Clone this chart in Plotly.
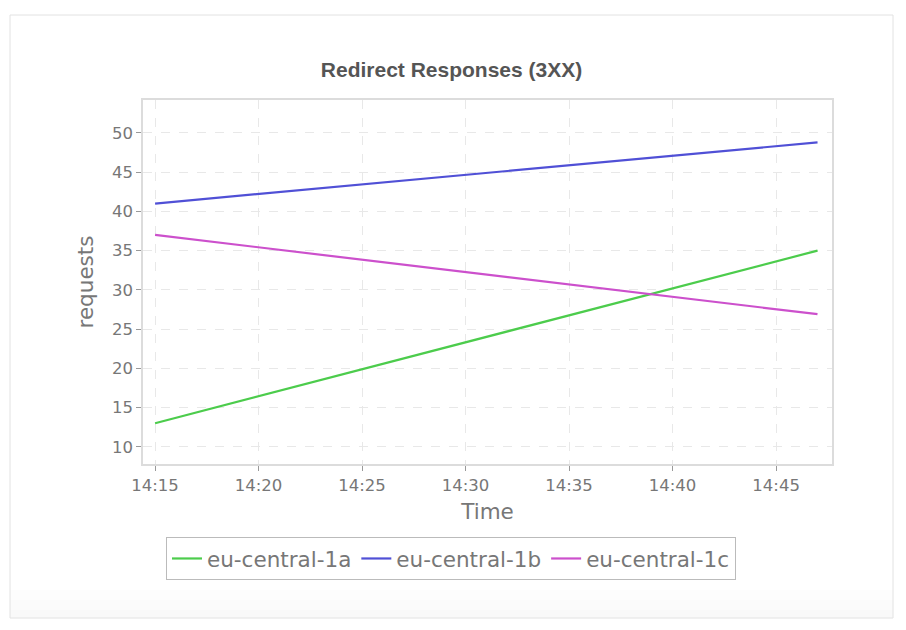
import plotly.graph_objects as go

times = ["2024-01-01 14:15", "2024-01-01 14:47"]
series_names = ["eu-central-1a", "eu-central-1b", "eu-central-1c"]
values_a = [13, 35]
values_b = [41, 48.8]
values_c = [37, 26.9]
colors = ["#4ccc4c", "#5050d6", "#cc50cc"]
tick_vals = ["2024-01-01 14:15", "2024-01-01 14:20", "2024-01-01 14:25", "2024-01-01 14:30",
             "2024-01-01 14:35", "2024-01-01 14:40", "2024-01-01 14:45"]
tick_text = ["14:15", "14:20", "14:25", "14:30", "14:35", "14:40", "14:45"]

fig = go.Figure()
for name, vals, col in zip(series_names, [values_a, values_b, values_c], colors):
    fig.add_trace(go.Scatter(x=times, y=vals, mode="lines", name=name,
                             line=dict(color=col, width=2.2)))

# page has an 8px body margin; lay out in page-pixel terms
OFF = 8
W, H = 906 - OFF, 630 - OFF
PL, PR, PT, PB = 143, 832, 100, 464  # plot area in page pixels
L, R, T, B = PL - OFF, 906 - PR, PT - OFF, 630 - PB
pw, ph = PR - PL, PB - PT

def px(x):
    return (x - PL) / pw

def py(y):
    return (PB - y) / ph

shapes = [
    dict(type="rect", xref="paper", yref="paper", x0=px(10), x1=px(893), y0=py(618), y1=py(15),
         line=dict(color="#e2e2e2", width=1), fillcolor="rgba(0,0,0,0)", layer="below"),
]
for i, (a, b) in enumerate([(590, 600), (600, 610), (610, 617.5)]):
    shapes.append(dict(type="rect", xref="paper", yref="paper", x0=px(10.5), x1=px(892.5),
                       y0=py(b), y1=py(a), line=dict(width=0),
                       fillcolor="rgba(0,0,0,%.3f)" % (0.008 + 0.008 * i), layer="below"))

axis_common = dict(
    showline=True, linecolor="#dcdcdc", linewidth=1.5, mirror=True,
    ticks="outside", ticklen=5, tickcolor="#999", tickwidth=1,
    showgrid=True, gridcolor="#e8e8e8", griddash="dash", gridwidth=1,
    zeroline=False,
    tickfont=dict(family="DejaVu Sans", size=16.5, color="#777"),
)

fig.update_layout(
    width=W, height=H,
    margin=dict(l=L, r=R, t=T, b=B),
    paper_bgcolor="white", plot_bgcolor="white",
    title=dict(text="<b>Redirect Responses (3XX)</b>", x=px(451.5), xref="paper", xanchor="center",
               y=1 - (70 - OFF) / H, yref="container", yanchor="middle",
               font=dict(family="Liberation Sans", size=21, color="#555")),
    xaxis=dict(**axis_common, range=["2024-01-01 14:14:25", "2024-01-01 14:47:42"],
               tickvals=tick_vals, ticktext=tick_text,
               title=dict(text="Time", font=dict(family="DejaVu Sans", size=21.5, color="#777"), standoff=10)),
    yaxis=dict(**axis_common, range=[7.8, 54.2], tickvals=[10, 15, 20, 25, 30, 35, 40, 45, 50],
               title=dict(text="requests", font=dict(family="DejaVu Sans", size=21.5, color="#777"), standoff=12)),
    legend=dict(orientation="h", x=px(166), xanchor="left", y=py(537), yanchor="top",
                bordercolor="#bbb", borderwidth=1, bgcolor="white",
                font=dict(family="DejaVu Sans", size=21.5, color="#777"),
                itemwidth=30, tracegroupgap=0),
    shapes=shapes,
    showlegend=True,
)

fig.write_html("out.html")
